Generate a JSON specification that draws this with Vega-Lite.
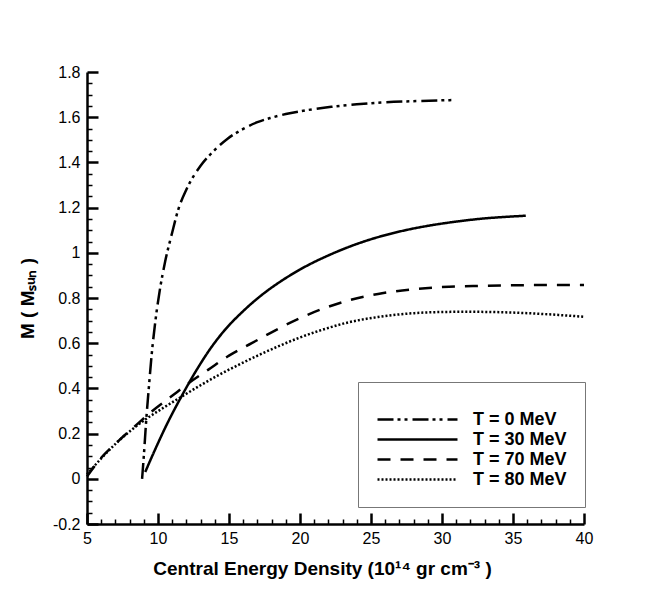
{
  "$schema": "https://vega.github.io/schema/vega-lite/v6.json",
  "width": 497,
  "height": 452,
  "autosize": {"type": "none"},
  "padding": {"left": 87, "top": 72, "right": 80, "bottom": 67},
  "background": "white",
  "config": {
    "view": {"stroke": null},
    "font": "Liberation Sans",
    "axis": {
      "domainColor": "black",
      "domainWidth": 2.5,
      "tickColor": "black",
      "labelColor": "black",
      "labelFontSize": 16,
      "labelFont": "Liberation Sans",
      "labelOverlap": false,
      "labelFlush": false,
      "grid": false,
      "titleFont": "Liberation Sans",
      "titleFontSize": 19,
      "titleFontWeight": "bold",
      "titleColor": "black"
    }
  },
  "data": {
    "values": [
      {"T": "T = 0 MeV", "x": 8.88, "y": 0.0},
      {"T": "T = 0 MeV", "x": 9.0, "y": 0.1},
      {"T": "T = 0 MeV", "x": 9.19, "y": 0.276},
      {"T": "T = 0 MeV", "x": 9.35, "y": 0.4},
      {"T": "T = 0 MeV", "x": 9.54, "y": 0.54},
      {"T": "T = 0 MeV", "x": 9.8, "y": 0.69},
      {"T": "T = 0 MeV", "x": 10.13, "y": 0.836},
      {"T": "T = 0 MeV", "x": 10.5, "y": 0.96},
      {"T": "T = 0 MeV", "x": 11.0, "y": 1.09},
      {"T": "T = 0 MeV", "x": 11.42, "y": 1.19},
      {"T": "T = 0 MeV", "x": 12.0, "y": 1.28},
      {"T": "T = 0 MeV", "x": 13.0, "y": 1.385},
      {"T": "T = 0 MeV", "x": 14.0, "y": 1.455},
      {"T": "T = 0 MeV", "x": 14.9, "y": 1.505},
      {"T": "T = 0 MeV", "x": 16.0, "y": 1.548},
      {"T": "T = 0 MeV", "x": 17.0, "y": 1.578},
      {"T": "T = 0 MeV", "x": 18.0, "y": 1.598},
      {"T": "T = 0 MeV", "x": 19.0, "y": 1.614},
      {"T": "T = 0 MeV", "x": 20.0, "y": 1.626},
      {"T": "T = 0 MeV", "x": 21.0, "y": 1.636},
      {"T": "T = 0 MeV", "x": 22.2, "y": 1.646},
      {"T": "T = 0 MeV", "x": 24.0, "y": 1.657},
      {"T": "T = 0 MeV", "x": 25.7, "y": 1.665},
      {"T": "T = 0 MeV", "x": 28.5, "y": 1.672},
      {"T": "T = 0 MeV", "x": 30.9, "y": 1.676},
      {"T": "T = 30 MeV", "x": 9.1, "y": 0.03},
      {"T": "T = 30 MeV", "x": 9.8, "y": 0.13},
      {"T": "T = 30 MeV", "x": 10.5, "y": 0.225},
      {"T": "T = 30 MeV", "x": 11.7, "y": 0.37},
      {"T": "T = 30 MeV", "x": 12.8, "y": 0.49},
      {"T": "T = 30 MeV", "x": 13.6, "y": 0.568},
      {"T": "T = 30 MeV", "x": 14.5, "y": 0.643},
      {"T": "T = 30 MeV", "x": 16.1, "y": 0.748},
      {"T": "T = 30 MeV", "x": 17.3, "y": 0.813},
      {"T": "T = 30 MeV", "x": 18.65, "y": 0.874},
      {"T": "T = 30 MeV", "x": 20.0, "y": 0.926},
      {"T": "T = 30 MeV", "x": 22.2, "y": 0.994},
      {"T": "T = 30 MeV", "x": 24.0, "y": 1.039},
      {"T": "T = 30 MeV", "x": 25.7, "y": 1.073},
      {"T": "T = 30 MeV", "x": 27.5, "y": 1.101},
      {"T": "T = 30 MeV", "x": 29.26, "y": 1.122},
      {"T": "T = 30 MeV", "x": 31.0, "y": 1.138},
      {"T": "T = 30 MeV", "x": 32.8, "y": 1.151},
      {"T": "T = 30 MeV", "x": 34.5, "y": 1.159},
      {"T": "T = 30 MeV", "x": 35.9, "y": 1.164},
      {"T": "T = 70 MeV", "x": 5.0, "y": 0.01},
      {"T": "T = 70 MeV", "x": 6.0, "y": 0.093},
      {"T": "T = 70 MeV", "x": 7.2, "y": 0.167},
      {"T": "T = 70 MeV", "x": 8.36, "y": 0.232},
      {"T": "T = 70 MeV", "x": 9.6, "y": 0.3},
      {"T": "T = 70 MeV", "x": 10.95, "y": 0.365},
      {"T": "T = 70 MeV", "x": 12.2, "y": 0.425},
      {"T": "T = 70 MeV", "x": 13.55, "y": 0.483},
      {"T": "T = 70 MeV", "x": 15.0, "y": 0.545},
      {"T": "T = 70 MeV", "x": 16.6, "y": 0.6},
      {"T": "T = 70 MeV", "x": 18.2, "y": 0.655},
      {"T": "T = 70 MeV", "x": 19.9, "y": 0.708},
      {"T": "T = 70 MeV", "x": 21.5, "y": 0.75},
      {"T": "T = 70 MeV", "x": 23.4, "y": 0.789},
      {"T": "T = 70 MeV", "x": 25.5, "y": 0.818},
      {"T": "T = 70 MeV", "x": 28.05, "y": 0.839},
      {"T": "T = 70 MeV", "x": 30.5, "y": 0.85},
      {"T": "T = 70 MeV", "x": 32.8, "y": 0.854},
      {"T": "T = 70 MeV", "x": 36.0, "y": 0.857},
      {"T": "T = 70 MeV", "x": 40.0, "y": 0.858},
      {"T": "T = 80 MeV", "x": 5.0, "y": 0.02},
      {"T": "T = 80 MeV", "x": 6.0, "y": 0.09},
      {"T": "T = 80 MeV", "x": 7.2, "y": 0.166},
      {"T": "T = 80 MeV", "x": 9.1, "y": 0.262},
      {"T": "T = 80 MeV", "x": 10.4, "y": 0.315},
      {"T": "T = 80 MeV", "x": 11.7, "y": 0.365},
      {"T": "T = 80 MeV", "x": 13.0, "y": 0.414},
      {"T": "T = 80 MeV", "x": 14.3, "y": 0.46},
      {"T": "T = 80 MeV", "x": 15.7, "y": 0.505},
      {"T": "T = 80 MeV", "x": 17.15, "y": 0.549},
      {"T": "T = 80 MeV", "x": 18.5, "y": 0.587},
      {"T": "T = 80 MeV", "x": 19.9, "y": 0.623},
      {"T": "T = 80 MeV", "x": 21.5, "y": 0.658},
      {"T": "T = 80 MeV", "x": 23.4, "y": 0.692},
      {"T": "T = 80 MeV", "x": 25.5, "y": 0.716},
      {"T": "T = 80 MeV", "x": 28.05, "y": 0.733},
      {"T": "T = 80 MeV", "x": 30.0, "y": 0.738},
      {"T": "T = 80 MeV", "x": 31.6, "y": 0.739},
      {"T": "T = 80 MeV", "x": 33.5, "y": 0.738},
      {"T": "T = 80 MeV", "x": 36.3, "y": 0.732},
      {"T": "T = 80 MeV", "x": 38.2, "y": 0.725},
      {"T": "T = 80 MeV", "x": 40.0, "y": 0.717}
    ]
  },
  "mark": {"type": "line", "color": "black", "strokeWidth": 2.5, "interpolate": "monotone"},
  "encoding": {
    "x": {
      "field": "x",
      "type": "quantitative",
      "scale": {"domain": [5, 40], "nice": false, "zero": false},
      "title": "Central Energy Density (10¹⁴ gr cm⁻³ )",
      "axis": {
        "values": [5,6,7,8,9,10,11,12,13,14,15,16,17,18,19,20,21,22,23,24,25,26,27,28,29,30,31,32,33,34,35,36,37,38,39,40],
        "labelExpr": "datum.value % 5 === 0 ? '' + datum.value : ''",
        "tickSize": {"condition": {"test": "datum.value % 5 === 0", "value": -11}, "value": -5},
        "tickWidth": {"condition": {"test": "datum.value % 5 === 0", "value": 2.5}, "value": 1.5},
        "labelPadding": 17,
        "titlePadding": 7,
        "titleX": 235
      }
    },
    "y": {
      "field": "y",
      "type": "quantitative",
      "scale": {"domain": [-0.2, 1.8], "nice": false, "zero": false},
      "title": "M ( Mₛᵤₙ )",
      "axis": {
        "values": [-0.2,-0.15,-0.1,-0.05,0,0.05,0.1,0.15,0.2,0.25,0.3,0.35,0.4,0.45,0.5,0.55,0.6,0.65,0.7,0.75,0.8,0.85,0.9,0.95,1,1.05,1.1,1.15,1.2,1.25,1.3,1.35,1.4,1.45,1.5,1.55,1.6,1.65,1.7,1.75,1.8],
        "labelExpr": "round(datum.value * 20) % 4 === 0 ? '' + datum.value : ''",
        "tickSize": {"condition": {"test": "round(datum.value * 20) % 4 === 0", "value": -11}, "value": -5},
        "tickWidth": {"condition": {"test": "round(datum.value * 20) % 4 === 0", "value": 2.5}, "value": 1.5},
        "labelPadding": 18,
        "titlePadding": 15
      }
    },
    "strokeDash": {
      "field": "T",
      "type": "nominal",
      "scale": {
        "domain": ["T = 0 MeV", "T = 30 MeV", "T = 70 MeV", "T = 80 MeV"],
        "range": [[16, 4, 3, 4, 3, 5], [1, 0], [13, 10], [2, 2]]
      },
      "legend": {
        "orient": "none",
        "legendX": 271,
        "legendY": 310,
        "title": " ",
        "titleFontSize": 4,
        "titlePadding": 5,
        "symbolType": "M-4.444,0L4.444,0",
        "symbolSize": 324,
        "symbolOffset": 31,
        "symbolStrokeWidth": 2.5,
        "symbolStrokeColor": "black",
        "symbolFillColor": "transparent",
        "labelFontSize": 18,
        "labelFontWeight": "bold",
        "labelFont": "Liberation Sans",
        "labelColor": "black",
        "labelOffset": 45,
        "labelLimit": 0,
        "rowPadding": 0,
        "padding": 18,
        "strokeColor": "#777777",
        "fillColor": "white"
      }
    }
  }
}
